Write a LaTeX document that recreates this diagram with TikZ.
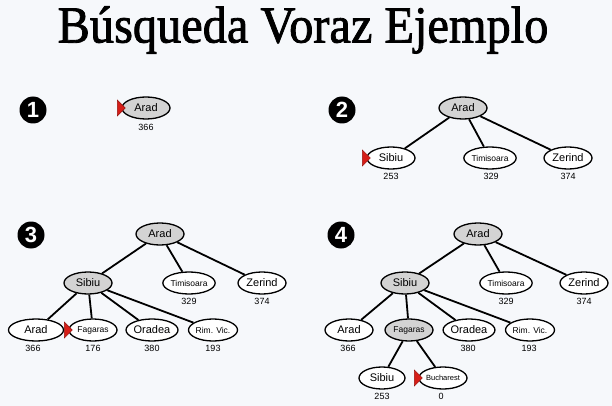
\documentclass[tikz,border=0pt]{standalone}
\usepackage{fontspec}
\setmainfont{Liberation Sans}
\newfontfamily\titlefont[FakeBold=1.6]{Liberation Serif}
\usetikzlibrary{shapes.geometric,calc}
\definecolor{expgray}{RGB}{211,211,211}
\definecolor{bgcol}{RGB}{246,248,251}
\definecolor{flagred}{RGB}{214,30,24}
\definecolor{flagedge}{RGB}{150,20,15}
\newcommand\flagmark[1]{\filldraw[fill=flagred,draw=flagedge,line width=0.5pt] ($(#1.west)+(-4,-8)$) -- ($(#1.west)+(4,0)$) -- ($(#1.west)+(-4,8)$) -- cycle;}
\tikzset{
  city/.style={ellipse, draw, line width=1.3pt, fill=white, inner sep=0pt, minimum height=22pt, minimum width=48pt, font=\fontsize{11}{11}\selectfont},
  small/.style={font=\fontsize{8.5}{8.5}\selectfont},
  tiny/.style={font=\fontsize{7.5}{7.5}\selectfont},
  expd/.style={fill=expgray},
  hval/.style={inner sep=0pt, font=\fontsize{9}{9}\selectfont},
  badge/.style={circle, fill=black, minimum size=27pt, inner sep=0pt, text=white, font=\bfseries\fontsize{22}{22}\selectfont},
  edge/.style={line width=1.8pt},
}
\begin{document}
\begin{tikzpicture}[x=1pt,y=-1pt]
\fill[bgcol] (0,0) rectangle (612,406);
\useasboundingbox (0,0) rectangle (612,406);
\node[inner sep=0pt, font=\titlefont\fontsize{52}{52}\selectfont] (title) at (303,30) {\scalebox{0.93}[1]{Búsqueda Voraz Ejemplo}};

% Panel 1
\node[badge] (b1) at (33,110) {1};
\node[city, expd] (p1a) at (146,108) {Arad};
\node[hval] (p1ah) at (146,127) {366};
\flagmark{p1a}

% Panel 2
\node[badge] (b2) at (342,110) {2};
\node[city, expd] (p2a) at (463,108) {Arad};
\node[city] (p2s) at (391,158) {Sibiu};
\node[city, small] (p2t) at (490,158) {Timisoara};
\node[city] (p2z) at (568,158) {Zerind};
\node[hval] (p2sh) at (391,176) {253};
\node[hval] (p2th) at (491,176) {329};
\node[hval] (p2zh) at (568,176) {374};
\draw[edge] (p2a) -- (p2s);
\draw[edge] (p2a) -- (p2t);
\draw[edge] (p2a) -- (p2z);
\flagmark{p2s}

% Panel 3
\node[badge] (b3) at (31,235) {3};
\node[city, expd] (p3a) at (160,234) {Arad};
\node[city, expd] (p3s) at (88,283) {Sibiu};
\node[city, small] (p3t) at (189,283) {Timisoara};
\node[city] (p3z) at (262,283) {Zerind};
\node[hval] (p3th) at (189,301) {329};
\node[hval] (p3zh) at (262,301) {374};
\node[city, minimum width=55pt] (p3sa) at (36,330) {Arad};
\node[city, small] (p3sf) at (93,330) {Fagaras};
\node[city, minimum width=52pt] (p3so) at (152,330) {Oradea};
\node[city, small, minimum width=49pt] (p3sr) at (213,330) {Rim. Vic.};
\node[hval] (p3sah) at (33,348) {366};
\node[hval] (p3sfh) at (93,348) {176};
\node[hval] (p3soh) at (152,348) {380};
\node[hval] (p3srh) at (213,348) {193};
\draw[edge] (p3a) -- (p3s);
\draw[edge] (p3a) -- (p3t);
\draw[edge] (p3a) -- (p3z);
\draw[edge] (p3s) -- (p3sa);
\draw[edge] (p3s) -- (p3sf);
\draw[edge] (p3s) -- (p3so);
\draw[edge] (p3s) -- (p3sr);
\flagmark{p3sf}

% Panel 4
\node[badge] (b4) at (341,235) {4};
\node[city, expd] (p4a) at (478,234) {Arad};
\node[city, expd] (p4s) at (405,283) {Sibiu};
\node[city, small] (p4t) at (506,283) {Timisoara};
\node[city] (p4z) at (584,283) {Zerind};
\node[hval] (p4th) at (506,301) {329};
\node[hval] (p4zh) at (584,301) {374};
\node[city] (p4sa) at (349,330) {Arad};
\node[city, small, expd] (p4sf) at (409,330) {Fagaras};
\node[city] (p4so) at (469,330) {Oradea};
\node[city, small, minimum width=49pt] (p4sr) at (530,330) {Rim. Vic.};
\node[hval] (p4sah) at (348,348) {366};
\node[hval] (p4soh) at (468,348) {380};
\node[hval] (p4srh) at (529,348) {193};
\node[city, minimum width=46pt] (p4fs) at (382,378) {Sibiu};
\node[city, tiny] (p4fb) at (443,378) {Bucharest};
\node[hval] (p4fsh) at (382,396) {253};
\node[hval] (p4fbh) at (441,396) {0};
\draw[edge] (p4a) -- (p4s);
\draw[edge] (p4a) -- (p4t);
\draw[edge] (p4a) -- (p4z);
\draw[edge] (p4s) -- (p4sa);
\draw[edge] (p4s) -- (p4sf);
\draw[edge] (p4s) -- (p4so);
\draw[edge] (p4s) -- (p4sr);
\draw[edge] (p4sf) -- (p4fs);
\draw[edge] (p4sf) -- (p4fb);
\flagmark{p4fb}
\end{tikzpicture}
\end{document}
